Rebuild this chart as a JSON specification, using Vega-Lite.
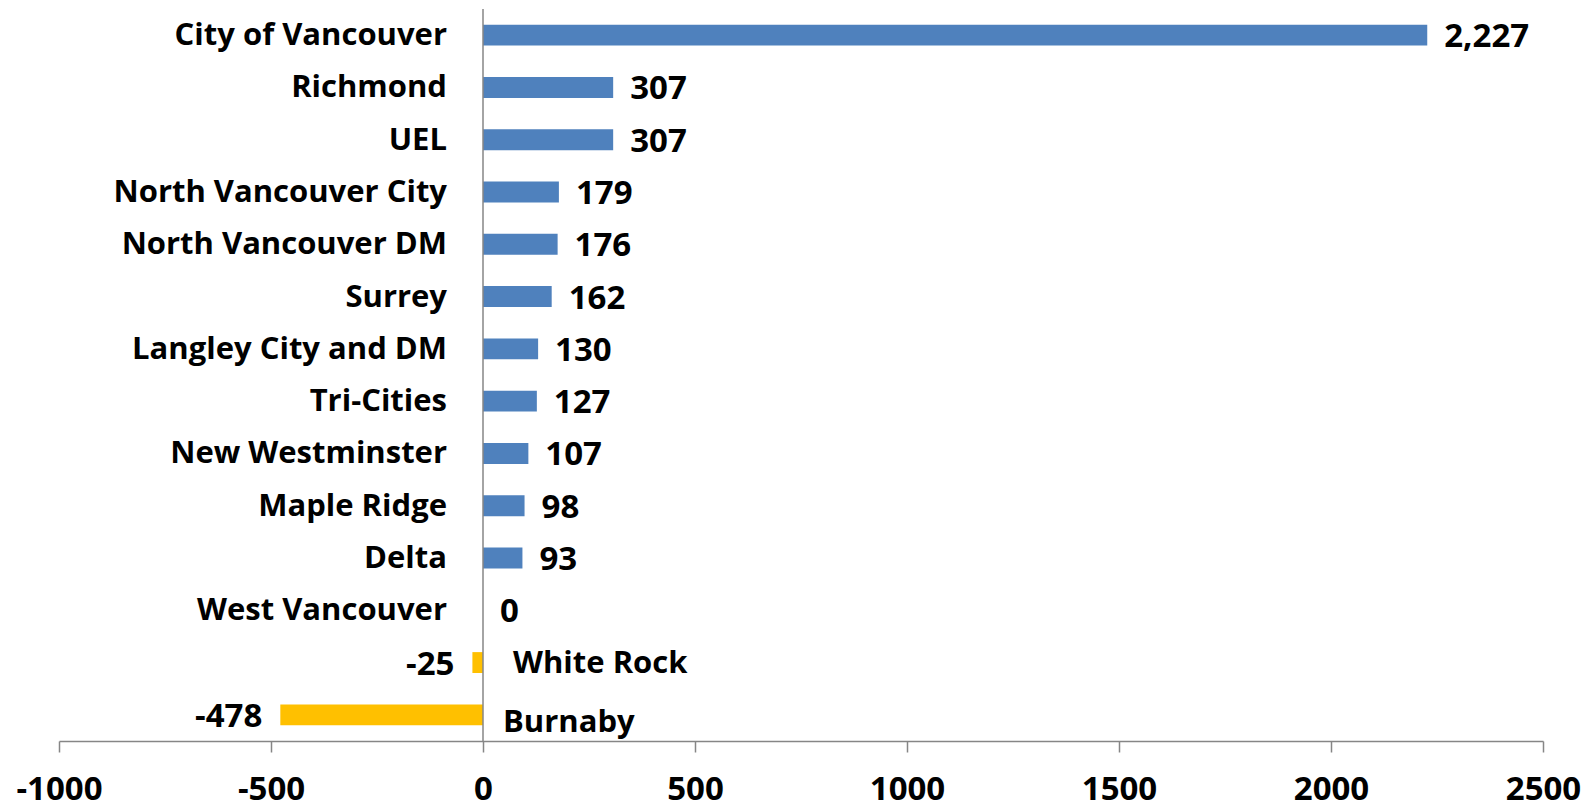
{
  "$schema": "https://vega.github.io/schema/vega-lite/v6.json",
  "width": 1484,
  "height": 732,
  "autosize": {"type": "none"},
  "padding": {"left": 59, "top": 9, "right": 51, "bottom": 63},
  "background": "white",
  "config": {
    "view": {"stroke": null},
    "font": "Open Sans",
    "locale": {
      "number": {"decimal": ".", "thousands": ",", "grouping": [3], "currency": ["$", ""], "minus": "-"}
    }
  },
  "data": {
    "values": [
      {"area": "City of Vancouver", "value": 2227},
      {"area": "Richmond", "value": 307},
      {"area": "UEL", "value": 307},
      {"area": "North Vancouver City", "value": 179},
      {"area": "North Vancouver DM", "value": 176},
      {"area": "Surrey", "value": 162},
      {"area": "Langley City and DM", "value": 130},
      {"area": "Tri-Cities", "value": 127},
      {"area": "New Westminster", "value": 107},
      {"area": "Maple Ridge", "value": 98},
      {"area": "Delta", "value": 93},
      {"area": "West Vancouver", "value": 0},
      {"area": "White Rock", "value": -25},
      {"area": "Burnaby", "value": -478}
    ]
  },
  "encoding": {
    "y": {
      "field": "area",
      "type": "nominal",
      "sort": null,
      "scale": {"paddingInner": 0.6, "paddingOuter": 0.3},
      "axis": null
    }
  },
  "layer": [
    {
      "mark": {"type": "bar"},
      "encoding": {
        "x": {
          "field": "value",
          "type": "quantitative",
          "scale": {"domain": [-1000, 2500], "nice": false, "zero": false},
          "axis": {
            "title": null,
            "values": [-1000, -500, 0, 500, 1000, 1500, 2000, 2500],
            "grid": false,
            "domainColor": "#868686",
            "domainWidth": 1.5,
            "tickColor": "#868686",
            "tickWidth": 1.5,
            "tickSize": 11,
            "labelFont": "Open Sans",
            "labelFontWeight": "bold",
            "labelFontSize": 33,
            "labelColor": "#000000",
            "labelPadding": 21,
            "labelFlush": false,
            "labelOverlap": false,
            "format": "d"
          }
        },
        "color": {
          "condition": {"test": "datum.value < 0", "value": "#FFC000"},
          "value": "#4F81BD"
        }
      }
    },
    {
      "mark": {"type": "rule", "color": "#868686", "strokeWidth": 1.5},
      "data": {"values": [{"zero": 0}]},
      "encoding": {"x": {"field": "zero", "type": "quantitative"}, "y": null}
    },
    {
      "transform": [{"filter": "datum.value >= 0"}],
      "mark": {"type": "text", "align": "left", "baseline": "middle", "dx": 17, "dy": 2, "fontSize": 33, "fontWeight": "bold", "color": "#000000"},
      "encoding": {
        "x": {"field": "value", "type": "quantitative"},
        "text": {"field": "value", "type": "quantitative", "format": ","}
      }
    },
    {
      "transform": [{"filter": "datum.value < 0"}],
      "mark": {"type": "text", "align": "right", "baseline": "middle", "dx": -18, "dy": 2, "fontSize": 33, "fontWeight": "bold", "color": "#000000"},
      "encoding": {
        "x": {"field": "value", "type": "quantitative"},
        "text": {"field": "value", "type": "quantitative", "format": ","}
      }
    },
    {
      "transform": [{"filter": "datum.value >= 0"}],
      "mark": {"type": "text", "align": "right", "baseline": "middle", "dx": -36, "dy": 1, "fontSize": 31, "fontWeight": "bold", "color": "#000000"},
      "encoding": {
        "x": {"datum": 0, "type": "quantitative"},
        "text": {"field": "area"}
      }
    },
    {
      "transform": [{"filter": "datum.value < 0 && datum.area != 'Burnaby'"}],
      "mark": {"type": "text", "align": "left", "baseline": "middle", "dx": 30, "dy": 1, "fontSize": 31, "fontWeight": "bold", "color": "#000000"},
      "encoding": {
        "x": {"datum": 0, "type": "quantitative"},
        "text": {"field": "area"}
      }
    },
    {
      "transform": [{"filter": "datum.area == 'Burnaby'"}],
      "mark": {"type": "text", "align": "left", "baseline": "middle", "dx": 20, "dy": 8, "fontSize": 31, "fontWeight": "bold", "color": "#000000"},
      "encoding": {
        "x": {"datum": 0, "type": "quantitative"},
        "text": {"field": "area"}
      }
    }
  ]
}
